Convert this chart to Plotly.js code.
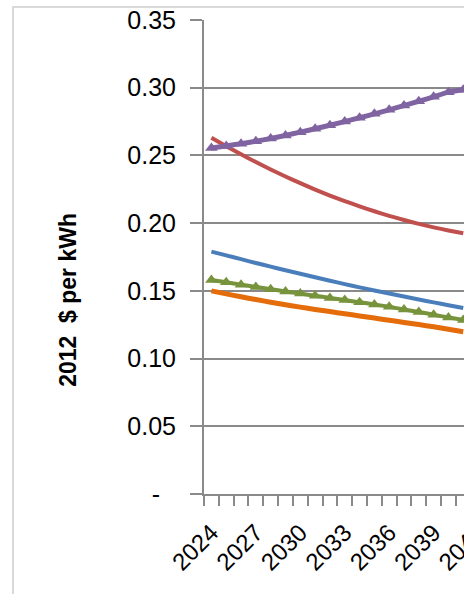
<!DOCTYPE html>
<html>
<head>
<meta charset="utf-8">
<script src="https://cdn.plot.ly/plotly-3.0.1.min.js"></script>
<style>
html,body{margin:0;padding:0;width:464px;height:594px;overflow:hidden;background:#fff;}
#chart{position:absolute;left:0;top:0;}
#frame{position:absolute;left:12px;top:6px;width:470px;height:600px;border-left:2px solid #d9d9d9;border-top:2px solid #d9d9d9;pointer-events:none;}
</style>
</head>
<body>
<div id="chart"></div>
<div id="frame"></div>
<script>
const years = [2024,2025,2026,2027,2028,2029,2030,2031,2032,2033,2034,2035,2036,2037,2038,2039,2040,2041];
const seriesBlue   = [0.179,0.1762,0.1734,0.1706,0.1679,0.1652,0.1626,0.160,0.1575,0.155,0.1526,0.1503,0.148,0.1458,0.1436,0.1415,0.1394,0.1374];
const seriesRed    = [0.263,0.2568,0.2508,0.2451,0.2396,0.2344,0.2295,0.2248,0.2204,0.2163,0.2124,0.2088,0.2054,0.2023,0.1995,0.1969,0.1946,0.1925];
const seriesGreen  = [0.158,0.1563,0.1546,0.1529,0.1512,0.1496,0.148,0.1464,0.1448,0.1432,0.1416,0.140,0.1382,0.1363,0.1344,0.1324,0.1303,0.1285];
const seriesPurple = [0.2555,0.257,0.2587,0.2605,0.2625,0.2648,0.2672,0.2697,0.2723,0.275,0.2778,0.2807,0.2837,0.2868,0.29,0.2933,0.2967,0.2985];
const seriesOrange = [0.150,0.1478,0.1456,0.1436,0.1416,0.1397,0.138,0.1363,0.1347,0.1331,0.1315,0.1299,0.1283,0.1267,0.1251,0.1235,0.1216,0.1198];
const xTickVals = [2024,2027,2030,2033,2036,2039,2042,2045,2048];
const xTickText = ['2024','2027','2030','2033','2036','2039','2042','2045','2048'];
const yTickVals = [0,0.05,0.10,0.15,0.20,0.25,0.30,0.35];
const yTickText = ['-\u00a0\u00a0\u200a','0.05','0.10','0.15','0.20','0.25','0.30','0.35'];
const yTitle = '2012\u00a0\u00a0$ per kWh';

const gridCol = '#8a8a8a';
const traces = [
  {x: years, y: seriesOrange, mode:'lines', line:{color:'#e46c0a', width:5, shape:'spline', smoothing:0.5}, name:'orange'},
  {x: years, y: seriesBlue, mode:'lines', line:{color:'#4a7ebb', width:4, shape:'spline', smoothing:0.5}, name:'blue'},
  {x: years, y: seriesGreen, mode:'lines+markers', line:{color:'#77933c', width:4, shape:'spline', smoothing:0.5}, marker:{symbol:'triangle-up', size:11, color:'#77933c'}, name:'green'},
  {x: years, y: seriesRed, mode:'lines', line:{color:'#c0504d', width:4, shape:'spline', smoothing:0.5}, name:'red'},
  {x: years, y: seriesPurple, mode:'lines+markers', line:{color:'#8064a2', width:5, shape:'spline', smoothing:0.5}, marker:{symbol:'triangle-up', size:11, color:'#8064a2'}, name:'purple'}
];
const layout = {
  width: 640, height: 594,
  margin: {l:204, r:36, t:20, b:100},
  paper_bgcolor:'#fff', plot_bgcolor:'#fff',
  showlegend:false,
  font:{family:'"Liberation Sans", Arial, sans-serif', color:'#000', size:24},
  xaxis:{
    range:[2023.5, 2050.5], showgrid:false, zeroline:false,
    showline:true, linecolor:gridCol, linewidth:2,
    tickmode:'array', tickvals:xTickVals, ticktext:xTickText, tickangle:-45,
    ticks:'outside', ticklen:10, tickcolor:'rgba(0,0,0,0)',
    ticklabelstandoff:3,
    tickfont:{size:24},
    minor:{tick0:2023.5, dtick:1, ticks:'outside', ticklen:10, tickcolor:gridCol, tickwidth:2, showgrid:false}
  },
  yaxis:{
    range:[0,0.35], showgrid:true, gridcolor:gridCol, gridwidth:2, zeroline:false,
    showline:true, linecolor:gridCol, linewidth:2,
    tickmode:'array', tickvals:yTickVals, ticktext:yTickText,
    ticks:'outside', ticklen:12, tickcolor:gridCol, tickwidth:2,
    ticklabelstandoff:9,
    tickfont:{size:25}
  },
  annotations:[{
    xref:'paper', yref:'paper', x:-0.342, y:0.41, xanchor:'center', yanchor:'middle',
    text:yTitle, showarrow:false, textangle:-90,
    font:{size:23, weight:'bold', color:'#000'}
  }]
};
Plotly.newPlot('chart', traces, layout, {staticPlot:true, displayModeBar:false});
</script>
</body>
</html>
